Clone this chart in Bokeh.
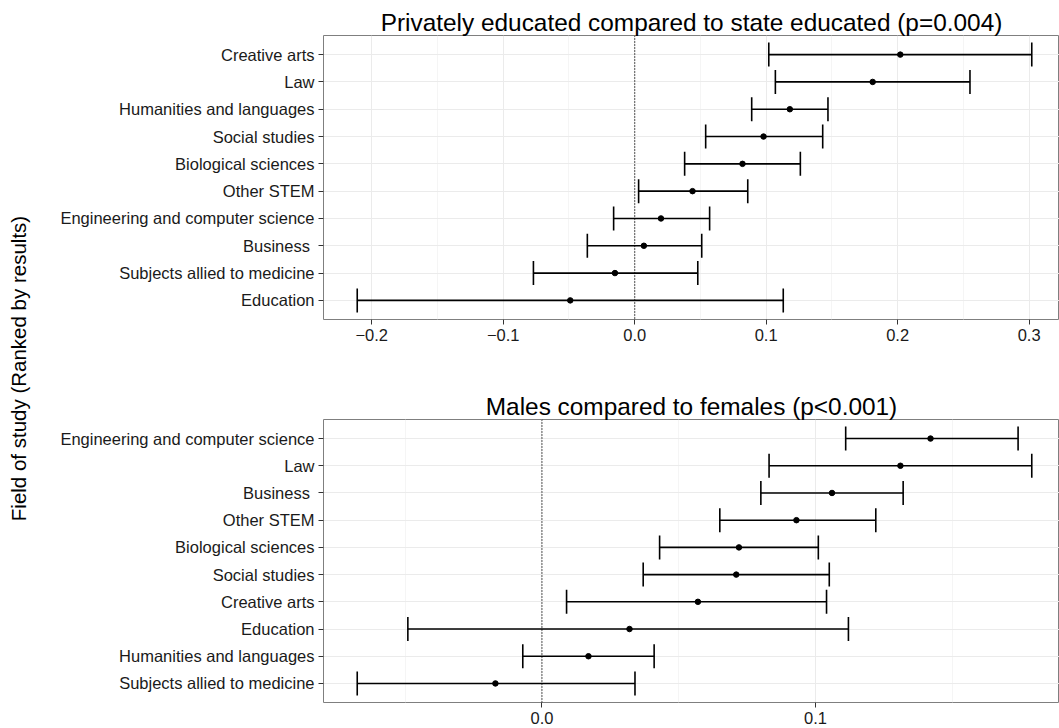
import math
from bokeh.plotting import figure
from bokeh.models import (ColumnDataSource, Whisker, TeeHead, Span, FixedTicker,
                          CustomJSTickFormatter, FactorRange, Range1d, Label)
from bokeh.layouts import row, column
from bokeh.embed import file_html
from bokeh.resources import INLINE

# ---------------- data ----------------
top_title = "Privately educated compared to state educated (p=0.004)"
top_fields = ["Creative arts", "Law", "Humanities and languages", "Social studies",
              "Biological sciences", "Other STEM", "Engineering and computer science",
              "Business ", "Subjects allied to medicine", "Education"]
top_est = [0.202, 0.181, 0.118, 0.098, 0.082, 0.044, 0.020, 0.007, -0.015, -0.049]
top_lo = [0.102, 0.107, 0.089, 0.054, 0.038, 0.003, -0.016, -0.036, -0.077, -0.211]
top_hi = [0.302, 0.255, 0.147, 0.143, 0.126, 0.086, 0.057, 0.051, 0.048, 0.113]
top_ticks = [-0.2, -0.1, 0.0, 0.1, 0.2, 0.3]
top_minor = [-0.15, -0.05, 0.05, 0.15, 0.25]

bot_title = "Males compared to females (p<0.001)"
bot_fields = ["Engineering and computer science", "Law", "Business ", "Other STEM",
              "Biological sciences", "Social studies", "Creative arts", "Education",
              "Humanities and languages", "Subjects allied to medicine"]
bot_est = [0.142, 0.131, 0.106, 0.093, 0.072, 0.071, 0.057, 0.032, 0.017, -0.017]
bot_lo = [0.111, 0.083, 0.080, 0.065, 0.043, 0.037, 0.009, -0.049, -0.007, -0.0675]
bot_hi = [0.174, 0.179, 0.132, 0.122, 0.101, 0.105, 0.104, 0.112, 0.041, 0.034]
bot_ticks = [0.0, 0.1]
bot_minor = [-0.05, 0.05, 0.15]

y_title = "Field of study (Ranked by results)"

FONT = "Liberation Sans"
FRAME_W = 736      # visible part of the panel
FULL_W = 742       # panel width in the original (right side is cropped)


def make_panel(title, fields, est, lo, hi, ticks, minors, min_top, min_bottom, fh):
    span = max(hi) - min(lo)
    x0 = min(lo) - 0.05 * span
    x1 = max(hi) + 0.05 * span
    x1_vis = x0 + (x1 - x0) * FRAME_W / FULL_W
    yr = FactorRange(factors=list(reversed(fields)), range_padding=0.2,
                     range_padding_units="absolute")
    p = figure(y_range=yr, x_range=Range1d(x0, x1_vis),
               frame_width=FRAME_W, frame_height=fh,
               min_border_left=275, min_border_right=0,
               min_border_top=min_top, min_border_bottom=min_bottom,
               output_backend="svg", toolbar_location=None,
               background_fill_color="white", border_fill_color="white")
    p.title.text = title
    p.title.text_font = FONT
    p.title.text_font_size = "24.4px"
    p.title.text_font_style = "normal"
    p.title.text_color = "black"
    p.title.align = "center"
    p.title.standoff = 0

    p.outline_line_color = "#7F7F7F"
    p.outline_line_width = 1

    src = ColumnDataSource(dict(y=fields, est=est, lo=lo, hi=hi))

    p.xaxis.ticker = FixedTicker(ticks=ticks, minor_ticks=minors)
    p.xaxis.formatter = CustomJSTickFormatter(
        code="return (tick < -1e-9 ? '\\u2212' : '') + Math.abs(tick).toFixed(1);")
    for ax in (p.xaxis[0], p.yaxis[0]):
        ax.axis_line_color = None
        ax.major_tick_line_color = "#333333"
        ax.major_tick_line_width = 1
        ax.major_tick_in = 0
        ax.major_tick_out = 5
        ax.minor_tick_line_color = None
        ax.major_label_text_font = FONT
        ax.major_label_text_font_size = "16.5px"
        ax.major_label_text_color = "#1A1A1A"
        ax.major_label_standoff = 4

    p.xgrid.grid_line_color = "#EBEBEB"
    p.xgrid.minor_grid_line_color = "#F5F5F5"
    p.ygrid.grid_line_color = "#EBEBEB"

    p.add_layout(Span(location=0, dimension="height", line_color="black",
                      line_width=1.3, line_dash="1 2"))

    p.add_layout(Whisker(source=src, base="y", lower="lo", upper="hi",
                         dimension="width", line_color="black", line_width=1.6,
                         upper_head=TeeHead(size=24, line_color="black", line_width=1.6),
                         lower_head=TeeHead(size=24, line_color="black", line_width=1.6)))
    p.scatter(x="est", y="y", source=src, size=5.5, color="black")
    return p


p1 = make_panel(top_title, top_fields, top_est, top_lo, top_hi, top_ticks, top_minor,
                35, 41, 284)
p2 = make_panel(bot_title, bot_fields, bot_est, bot_lo, bot_hi, bot_ticks, bot_minor,
                59, 26, 283)

pl = figure(width=48, height=728, x_range=Range1d(0, 48), y_range=Range1d(0, 728),
            output_backend="svg", toolbar_location=None, min_border=0,
            outline_line_color=None)
pl.axis.visible = False
pl.grid.visible = False
pl.add_layout(Label(x=18, y=360, text=y_title, angle=math.pi / 2,
                    text_align="center", text_baseline="middle",
                    text_font=FONT, text_font_size="20.5px", text_color="black"))

layout = row(pl, column(p1, p2))

with open("out.html", "w") as f:
    f.write(file_html(layout, INLINE))
